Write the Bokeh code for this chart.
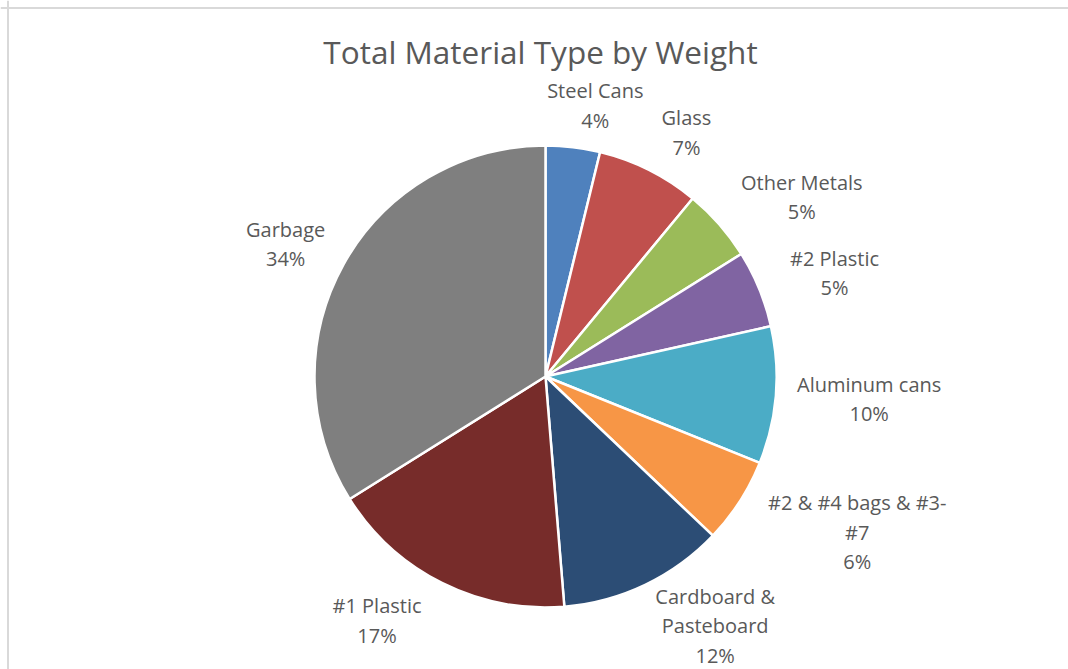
import math
from bokeh.plotting import figure
from bokeh.models import ColumnDataSource, Range1d, Span
from bokeh.core.properties import value
from bokeh.embed import file_html
from bokeh.resources import INLINE

# ---- data ----
categories = ["Steel Cans", "Glass", "Other Metals", "#2 Plastic", "Aluminum cans",
              "#2 & #4 bags & #3-#7", "Cardboard & Pasteboard", "#1 Plastic", "Garbage"]
label_lines = ["Steel Cans", "Glass", "Other Metals", "#2 Plastic", "Aluminum cans",
               "#2 & #4 bags & #3-\n#7", "Cardboard &\nPasteboard", "#1 Plastic", "Garbage"]
weights = [3.8, 7.2, 5.1, 5.4, 9.6, 6.0, 11.6, 17.4, 33.9]
colors = ["#4F81BD", "#C0504D", "#9BBB59", "#8064A2", "#4BACC6",
          "#F79646", "#2C4D75", "#772C2A", "#7F7F7F"]
title_text = "Total Material Type by Weight"

# ---- layout / style ----
W, H = 1068, 669
BORDER = 7.5                  # chart-area border offset (px)
CX, CY = 545, 376             # pie centre in screen px
R = 231
GAP_X, GAP_Y = 22, 13
LINE_H = 29
CHAR_W = 11
TEXT_COLOR = "#595959"

total = sum(weights)
fracs = [w / total for w in weights]
clip = lambda v: max(-1.0, min(1.0, v))
starts, ends, lx, ly, labs = [], [], [], [], []
cum = 0.0
for f, lab in zip(fracs, label_lines):
    a0 = cum
    a1 = cum + f
    cum = a1
    starts.append(math.pi / 2 - 2 * math.pi * a0)
    ends.append(math.pi / 2 - 2 * math.pi * a1)
    mid = 2 * math.pi * (a0 + a1) / 2      # clockwise from top
    ux, uy = math.sin(mid), math.cos(mid)
    text = f"{lab}\n{round(f * 100)}%"
    lines = text.split("\n")
    a = max(len(s) for s in lines) * CHAR_W / 2
    b = len(lines) * LINE_H / 2
    px = (R + GAP_X) * ux + a * clip(3 * ux)
    py = (R + GAP_Y) * uy + b * clip(uy)
    py = max(py, -(H - CY) + b)            # keep the label inside the chart area
    lx.append(px)
    ly.append(py)
    labs.append(text)

src = ColumnDataSource(dict(cat=categories, start=starts, end=ends, color=colors))
lsrc = ColumnDataSource(dict(x=lx, y=ly, text=labs))

p = figure(width=W, height=H, output_backend="svg", toolbar_location=None,
           min_border=0, x_range=Range1d(-CX, W - CX), y_range=Range1d(-(H - CY), CY))
p.axis.visible = False
p.grid.visible = False
p.outline_line_color = None
p.background_fill_color = "white"
p.border_fill_color = "white"

p.add_layout(Span(location=BORDER - CX, dimension="height", line_color="#D9D9D9", line_width=2))
p.add_layout(Span(location=CY - BORDER, dimension="width", line_color="#D9D9D9", line_width=2))

p.wedge(x=0, y=0, radius=R, start_angle="start", end_angle="end", direction="clock",
        fill_color="color", line_color="white", line_width=2.5, source=src)

p.text(x="x", y="y", text="text", source=lsrc, text_align="center", text_baseline="middle",
       text_font=value("Open Sans"), text_font_size="20px", text_color=TEXT_COLOR,
       text_line_height=1.08)

p.text(x=[540 - CX], y=[CY - 51], text=[title_text], text_align="center",
       text_baseline="alphabetic", text_font=value("Open Sans"), text_font_size="31.5px",
       text_color=TEXT_COLOR)

open("out.html", "w").write(file_html(p, INLINE))
